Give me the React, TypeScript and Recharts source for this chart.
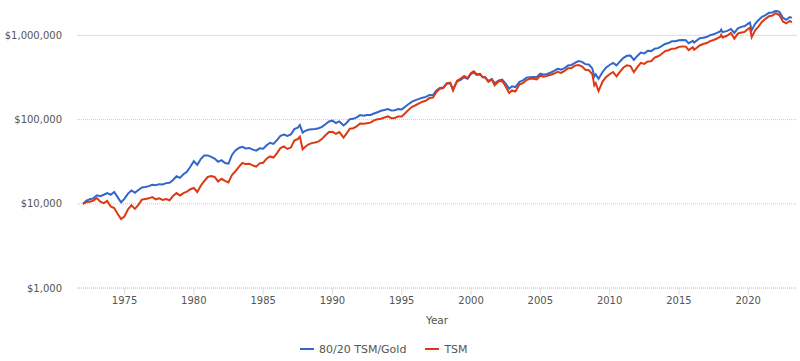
import React from 'react';
import { LineChart, Line, XAxis, YAxis, CartesianGrid, Legend, ReferenceLine } from 'recharts';

const years = [
  1972, 1972.25, 1972.5, 1972.75,
  1973, 1973.25, 1973.5, 1973.75,
  1974, 1974.25, 1974.5, 1974.75,
  1975, 1975.25, 1975.5, 1975.75,
  1976, 1976.25, 1976.5, 1976.75,
  1977, 1977.25, 1977.5, 1977.75,
  1978, 1978.25, 1978.5, 1978.75,
  1979, 1979.25, 1979.5, 1979.75,
  1980, 1980.25, 1980.5, 1980.75,
  1981, 1981.25, 1981.5, 1981.75,
  1982, 1982.25, 1982.5, 1982.75,
  1983, 1983.25, 1983.5, 1983.75,
  1984, 1984.25, 1984.5, 1984.75,
  1985, 1985.25, 1985.5, 1985.75,
  1986, 1986.25, 1986.5, 1986.75,
  1987, 1987.25, 1987.5, 1987.65, 1987.85,
  1988, 1988.25, 1988.5, 1988.75,
  1989, 1989.25, 1989.5, 1989.75,
  1990, 1990.25, 1990.5, 1990.8,
  1991, 1991.25, 1991.5, 1991.75,
  1992, 1992.25, 1992.5, 1992.75,
  1993, 1993.25, 1993.5, 1993.75,
  1994, 1994.25, 1994.5, 1994.75,
  1995, 1995.25, 1995.5, 1995.75,
  1996, 1996.25, 1996.5, 1996.75,
  1997, 1997.25, 1997.5, 1997.75,
  1998, 1998.25, 1998.5, 1998.7,
  1999, 1999.25, 1999.5, 1999.75,
  2000, 2000.2, 2000.4, 2000.65, 2000.85,
  2001, 2001.25, 2001.5, 2001.7,
  2002, 2002.25, 2002.5, 2002.75, 2002.95,
  2003.2, 2003.5, 2003.75,
  2004, 2004.25, 2004.5, 2004.75,
  2005, 2005.25, 2005.5, 2005.75,
  2006, 2006.25, 2006.5, 2006.75,
  2007, 2007.25, 2007.5, 2007.75,
  2008, 2008.25, 2008.5, 2008.75, 2008.9,
  2009, 2009.2, 2009.5, 2009.75,
  2010, 2010.25, 2010.5, 2010.75,
  2011, 2011.25, 2011.5, 2011.75,
  2012, 2012.25, 2012.5, 2012.75,
  2013, 2013.25, 2013.5, 2013.75,
  2014, 2014.25, 2014.5, 2014.75,
  2015, 2015.25, 2015.5, 2015.7,
  2016, 2016.1, 2016.5, 2016.75,
  2017, 2017.25, 2017.5, 2017.75,
  2018, 2018.05, 2018.15, 2018.5, 2018.75,
  2019, 2019.25, 2019.5, 2019.75,
  2020, 2020.12, 2020.25, 2020.5, 2020.75,
  2021, 2021.25, 2021.5, 2021.75,
  2022, 2022.25, 2022.5, 2022.75,
  2023, 2023.15,
];

const blendValues = [
  10000, 10900, 11300, 11600,
  12600, 12300, 12800, 13400,
  12800, 13800, 12000, 10400,
  11500, 13200, 14400, 13500,
  14600, 15600, 15800, 16200,
  16800, 16600, 17100, 17000,
  17600, 17800, 19200, 21200,
  20300, 22400, 24000, 27500,
  32000, 29000, 34000, 37500,
  37500, 36000, 34500, 31500,
  33000, 30500, 30000, 38000,
  43000, 46000, 47500, 45500,
  46000, 44000, 42800, 45500,
  45000, 49500, 53000, 51500,
  57000, 64000, 66500, 64000,
  66500, 77000, 80000, 86000, 70000,
  73000, 75500, 76500, 77500,
  79000, 82000, 88000, 95000,
  97000, 91000, 95000, 85000,
  90500, 101000, 102000, 106000,
  113000, 111000, 113000, 113500,
  118000, 122000, 127000, 130000,
  133000, 128500, 129000, 133000,
  132000, 142000, 153000, 163000,
  170000, 176000, 182000, 186000,
  196000, 195000, 222000, 238000,
  240000, 268000, 270000, 230000,
  285000, 297000, 318000, 305000,
  348000, 362000, 338000, 342000, 318000,
  320000, 288000, 303000, 270000,
  292000, 298000, 268000, 232000, 248000,
  243000, 280000, 292000,
  315000, 318000, 320000, 320000,
  350000, 340000, 348000, 362000,
  378000, 400000, 392000, 408000,
  438000, 445000, 472000, 495000,
  485000, 455000, 450000, 405000, 325000,
  345000, 305000, 370000, 415000,
  445000, 470000, 440000, 490000,
  540000, 572000, 575000, 510000,
  570000, 625000, 610000, 655000,
  650000, 695000, 705000, 745000,
  790000, 810000, 850000, 850000,
  875000, 882000, 875000, 805000,
  860000, 822000, 922000, 935000,
  955000, 1005000, 1030000, 1070000,
  1120000, 1165000, 1090000, 1130000, 1190000,
  1070000, 1210000, 1260000, 1290000,
  1380000, 1420000, 1150000, 1370000, 1520000,
  1660000, 1740000, 1860000, 1870000,
  1960000, 1900000, 1620000, 1530000,
  1650000, 1610000,
];

const tsmValues = [
  10000, 10500, 10600, 10900,
  11700, 10600, 10200, 10800,
  9300, 8900, 7600, 6600,
  7100, 8600, 9600, 8700,
  9700, 11200, 11400, 11600,
  12000, 11300, 11600, 11100,
  11400, 11000, 12400, 13400,
  12500, 13400, 13900, 14900,
  15400, 13800, 16400, 18600,
  20800, 21300, 20800, 18400,
  19800, 18700, 17900, 22000,
  24300, 27500, 30500, 29600,
  29800, 28600, 27600, 30200,
  30700, 34300, 36500, 35400,
  40000, 46000, 48000, 44800,
  46500, 56500, 58700, 62700, 44500,
  47000, 50500, 52500, 53500,
  55000, 59000, 65000, 71000,
  71500, 67500, 71000, 61000,
  67500, 78000, 79000, 83000,
  90000, 89000, 90500, 92000,
  98000, 101000, 102500, 106000,
  109000, 104000, 104500, 109000,
  109000, 119000, 131000, 142000,
  148000, 156000, 163000, 168000,
  180000, 182000, 213000, 232000,
  236000, 268000, 274000, 222000,
  290000, 306000, 330000, 310000,
  358000, 375000, 345000, 350000, 318000,
  320000, 280000, 300000, 255000,
  285000, 287000, 247000, 207000, 222000,
  215000, 262000, 270000,
  295000, 305000, 306000, 300000,
  332000, 322000, 330000, 341000,
  352000, 368000, 358000, 378000,
  406000, 410000, 437000, 445000,
  428000, 390000, 385000, 346000, 255000,
  270000, 218000, 285000, 320000,
  345000, 367000, 325000, 370000,
  415000, 440000, 432000, 365000,
  420000, 472000, 458000, 490000,
  492000, 545000, 565000, 600000,
  650000, 665000, 695000, 700000,
  730000, 738000, 735000, 668000,
  722000, 676000, 758000, 790000,
  810000, 855000, 880000, 918000,
  965000, 1015000, 945000, 995000, 1065000,
  915000, 1050000, 1080000, 1100000,
  1195000, 1230000, 950000, 1150000, 1280000,
  1450000, 1570000, 1690000, 1720000,
  1830000, 1740000, 1460000, 1390000,
  1480000, 1430000,
];

const seriesNames = ['80/20 TSM/Gold', 'TSM'];
const seriesColors = ['#3366cc', '#dc3912'];
const yTicks = [1000, 10000, 100000, 1000000];
const dottedGridValues = [1000, 10000, 100000];
const xTicks = [1975, 1980, 1985, 1990, 1995, 2000, 2005, 2010, 2015, 2020];

const data = years.map((year, i) => ({ year, blend: blendValues[i], tsm: tsmValues[i] }));

const FONT = '"DejaVu Sans", sans-serif';

const fmtMoney = (v: number) => '$' + v.toLocaleString('en-US');

const renderLegend = () => (
  <div style={{ display: 'flex', alignItems: 'center', height: 20, paddingLeft: 300, fontFamily: FONT, fontSize: 11, color: '#555' }}>
    {seriesNames.map((name, i) => (
      <div key={name} style={{ display: 'flex', alignItems: 'center', marginRight: 19 }}>
        <div style={{ width: 14, height: 2, background: seriesColors[i], marginRight: 5 }} />
        <span>{name}</span>
      </div>
    ))}
  </div>
);

export default function App() {
  return (
    <div style={{ position: 'absolute', left: 0, top: 0, width: 800, height: 361, background: '#fff', fontFamily: FONT }}>
      <LineChart width={800} height={361} data={data} margin={{ top: 10, right: 3, bottom: 5, left: 0 }}>
        <CartesianGrid vertical={false} horizontalValues={dottedGridValues} stroke="#ccc" strokeDasharray="1 1" />
        <ReferenceLine y={1000000} stroke="#ddd" strokeWidth={1} />
        <XAxis
          dataKey="year"
          type="number"
          domain={[1971.57, 2023.52]}
          ticks={xTicks}
          allowDataOverflow
          height={48}
          tickSize={7}
          tickMargin={2}
          axisLine={{ stroke: '#ccc', strokeDasharray: '1 1' }}
          tickLine={{ stroke: '#ddd' }}
          tick={{ fill: '#555', fontSize: 10, fontFamily: FONT }}
          label={{ value: 'Year', position: 'insideBottom', offset: 12, fill: '#555', fontSize: 10.5, fontFamily: FONT }}
        />
        <YAxis
          scale="log"
          domain={[1000, 2000000]}
          ticks={yTicks}
          allowDataOverflow
          width={77}
          axisLine={false}
          tickLine={false}
          tickMargin={9}
          tickFormatter={fmtMoney}
          tick={{ fill: '#555', fontSize: 10, fontFamily: FONT }}
        />
        <Legend verticalAlign="bottom" content={renderLegend} wrapperStyle={{ left: 0, width: 800, top: 339, bottom: 'auto' }} />
        <Line type="linear" dataKey="blend" name={seriesNames[0]} stroke={seriesColors[0]} strokeWidth={2} dot={false} isAnimationActive={false} />
        <Line type="linear" dataKey="tsm" name={seriesNames[1]} stroke={seriesColors[1]} strokeWidth={2} dot={false} isAnimationActive={false} />
      </LineChart>
    </div>
  );
}
